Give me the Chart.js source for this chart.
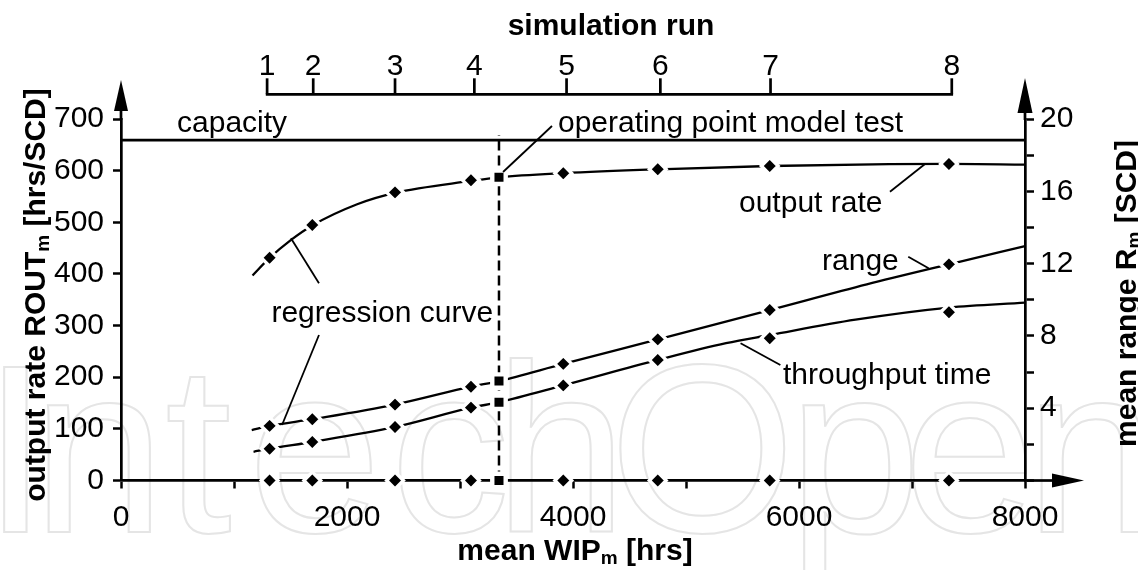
<!DOCTYPE html>
<html><head><meta charset="utf-8">
<script src="https://cdn.jsdelivr.net/npm/chart.js@4/dist/chart.umd.min.js"></script>
<style>html,body{margin:0;padding:0;background:#fff}#wrap{width:1138px;height:570px;position:relative}</style>
</head><body><div id="wrap"><canvas id="c" width="1138" height="570"></canvas></div>
<script>
// ---------- data ----------
const runs = ['1','2','3','4','5','6','7','8'];
const runWIP = [1315, 1693, 2425, 3097, 3914, 4750, 5741, 7327];
const runTickWIP = [1293, 1701, 2425, 3127, 3943, 4773, 5748, 7352];
const outputRate = [431.4, 494.7, 558, 581.3, 595, 602.8, 609, 612.9];
const rangeSCD = [3.02, 3.39, 4.2, 5.19, 6.45, 7.81, 9.43, 11.96];
const throughputSCD = [1.76, 2.13, 2.96, 4.03, 5.26, 6.67, 7.87, 9.31];
const opWIP = 3345;
const opOutput = 587.1;
const opRange = 5.5;
const opThroughput = 4.33;
const capacity = 659;
const opLineTop = 669;
const outCurveX = [1164, 1315, 1505, 1693, 2090, 2425, 3097, 3345, 3914, 4750, 5741, 6800, 7327, 8000];
const outCurveY = [397, 431, 466, 494, 535, 557, 580, 587, 595, 602.5, 609, 612.5, 613, 611.5];
const rangeCurveX = [1157, 1315, 1693, 2425, 3097, 3345, 3914, 4750, 5741, 6600, 7327, 8000];
const rangeCurveY = [2.79, 3.02, 3.39, 4.2, 5.19, 5.5, 6.45, 7.81, 9.43, 10.85, 11.96, 12.97];
const tptCurveX = [1173, 1315, 1693, 2425, 3097, 3345, 3914, 4750, 5354, 5741, 6500, 7327, 8000];
const tptCurveY = [1.59, 1.76, 2.13, 2.96, 4.03, 4.33, 5.26, 6.67, 7.6, 8.05, 8.9, 9.57, 9.84];

const FAM = "'Liberation Sans', Arial, Helvetica, sans-serif";

// annotation texts (x in WIP, y in output-rate units)
const labels = [
  {t:'capacity', x:496, y:675.4},
  {t:'operating point model test', x:3867, y:674.8},
  {t:'output rate', x:5469, y:520.5},
  {t:'range', x:6204, y:407.6},
  {t:'throughput time', x:5858, y:187.8},
  {t:'regression curve', x:1331, y:307.5}
];
const leaders = [
  [3381, 597.4, 3814, 686.5],
  [6805, 559.2, 7115, 612.9],
  [6967, 433.4, 7147, 410.9],
  [5483, 265.7, 5835, 223.6],
  [1504, 469, 1752, 381.9],
  [1752, 281.7, 1425, 107.5]
];

// faint background watermark
const wmText = 'IntechOpen';
const wmInkLeft = [4, 47, 168, 258, 400, 510, 620, 803, 913, 1040];

const pts = (xs, ys) => xs.map((x, i) => ({x: x, y: ys[i]}));

function rich(ctx, parts, F, x, y, rot) {
  ctx.save();
  ctx.translate(x, y);
  if (rot) ctx.rotate(rot);
  const fonts = parts.map(p => p[1] ? `bold ${Math.round(F * 0.63)}px ${FAM}` : `bold ${F}px ${FAM}`);
  const widths = parts.map((p, i) => { ctx.font = fonts[i]; return ctx.measureText(p[0]).width; });
  let cx = -widths.reduce((a, b) => a + b, 0) / 2;
  ctx.textAlign = 'left'; ctx.textBaseline = 'alphabetic'; ctx.fillStyle = '#000';
  parts.forEach((p, i) => { ctx.font = fonts[i]; ctx.fillText(p[0], cx, p[1] ? 4 : 0); cx += widths[i]; });
  ctx.restore();
}

const watermark = {
  id: 'watermark',
  beforeDraw(chart) {
    const ctx = chart.ctx;
    ctx.save();
    ctx.font = `240px ${FAM}`; ctx.textAlign = 'left'; ctx.textBaseline = 'alphabetic';
    ctx.strokeStyle = '#e5e5e5'; ctx.lineWidth = 2;
    wmText.split('').forEach((ch, i) => {
      const m = ctx.measureText(ch);
      ctx.strokeText(ch, wmInkLeft[i] + (m.actualBoundingBoxLeft || 0), 532);
    });
    ctx.restore();
  }
};

const deco = {
  id: 'deco',
  afterDraw(chart) {
    const ctx = chart.ctx, ca = chart.chartArea;
    const xs = chart.scales.x, ys = chart.scales.y;
    const X = v => xs.getPixelForValue(v), Y = v => ys.getPixelForValue(v);
    ctx.save();
    ctx.strokeStyle = '#000'; ctx.fillStyle = '#000'; ctx.lineCap = 'butt';
    // axis arrows
    ctx.lineWidth = 2.7;
    ctx.beginPath(); ctx.moveTo(ca.left, ca.top + 1); ctx.lineTo(ca.left, ca.top - 10); ctx.stroke();
    ctx.beginPath(); ctx.moveTo(ca.left, ca.top - 39); ctx.lineTo(ca.left - 7, ca.top - 8); ctx.lineTo(ca.left + 7, ca.top - 8); ctx.closePath(); ctx.fill();
    ctx.beginPath(); ctx.moveTo(ca.right, ca.top + 1); ctx.lineTo(ca.right, ca.top - 8); ctx.stroke();
    ctx.beginPath(); ctx.moveTo(ca.right, ca.top - 41); ctx.lineTo(ca.right - 7.5, ca.top - 6); ctx.lineTo(ca.right + 7.5, ca.top - 6); ctx.closePath(); ctx.fill();
    ctx.beginPath(); ctx.moveTo(ca.right - 1, ca.bottom); ctx.lineTo(ca.right + 29, ca.bottom); ctx.stroke();
    ctx.beginPath(); ctx.moveTo(ca.right + 59, ca.bottom); ctx.lineTo(ca.right + 27, ca.bottom - 7); ctx.lineTo(ca.right + 27, ca.bottom + 7); ctx.closePath(); ctx.fill();
    // top axis: simulation run
    const ty = ca.top - 24.7;
    ctx.beginPath(); ctx.moveTo(X(runTickWIP[0]) - 1.3, ty); ctx.lineTo(X(runTickWIP[runTickWIP.length - 1]) + 1.3, ty); ctx.stroke();
    ctx.font = `30px ${FAM}`; ctx.textAlign = 'center'; ctx.textBaseline = 'alphabetic';
    runTickWIP.forEach((w, i) => {
      ctx.beginPath(); ctx.moveTo(X(w), ty); ctx.lineTo(X(w), ty - 16); ctx.stroke();
      ctx.fillText(runs[i], X(w), ty - 19.5);
    });
    // axis titles
    rich(ctx, [['simulation run']], 30, X(4336), 35, 0);
    rich(ctx, [['mean WIP'], ['m', 1], [' [hrs]']], 30, (ca.left + ca.right) / 2 + 2, 560, 0);
    rich(ctx, [['output rate ROUT'], ['m', 1], [' [hrs/SCD]']], 30, 45, 295, -Math.PI / 2);
    rich(ctx, [['mean range R'], ['m', 1], [' [SCD]']], 30, 1136, 293.5, -Math.PI / 2);
    // leader lines
    ctx.lineWidth = 1.8;
    leaders.forEach(l => { ctx.beginPath(); ctx.moveTo(X(l[0]), Y(l[1])); ctx.lineTo(X(l[2]), Y(l[3])); ctx.stroke(); });
    // annotation texts
    ctx.font = `30px ${FAM}`; ctx.textAlign = 'left'; ctx.textBaseline = 'alphabetic';
    labels.forEach(a => ctx.fillText(a.t, X(a.x), Y(a.y)));
    ctx.restore();
  }
};

const diamond = {showLine: false, pointStyle: 'rectRot', pointRadius: 8.4, pointBorderWidth: 3.4,
  pointBackgroundColor: '#000', pointBorderColor: '#fff', clip: false};
const square = {showLine: false, pointStyle: 'rect', pointRadius: 9.5, pointBorderWidth: 4.4,
  pointBackgroundColor: '#000', pointBorderColor: '#fff', clip: false};
const curve = {borderColor: '#000', borderWidth: 2.3, pointRadius: 0, cubicInterpolationMode: 'monotone', clip: false};

new Chart(document.getElementById('c'), {
  type: 'line',
  data: {
    datasets: [
      Object.assign({label: 'operating point', yAxisID: 'y', data: [{x: opWIP, y: opOutput}, {x: opWIP, y: 0}]}, square),
      Object.assign({label: 'operating point SCD', yAxisID: 'y2', data: [{x: opWIP, y: opRange}, {x: opWIP, y: opThroughput}]}, square),
      Object.assign({label: 'output rate', yAxisID: 'y', data: pts(runWIP, outputRate)}, diamond),
      Object.assign({label: 'range', yAxisID: 'y2', data: pts(runWIP, rangeSCD)}, diamond),
      Object.assign({label: 'throughput time', yAxisID: 'y2', data: pts(runWIP, throughputSCD)}, diamond),
      Object.assign({label: 'runs', yAxisID: 'y', data: runWIP.map(x => ({x: x, y: 0}))}, diamond),
      Object.assign({label: 'output rate regression', yAxisID: 'y', data: pts(outCurveX, outCurveY)}, curve),
      Object.assign({label: 'range regression', yAxisID: 'y2', data: pts(rangeCurveX, rangeCurveY)}, curve),
      Object.assign({label: 'throughput regression', yAxisID: 'y2', data: pts(tptCurveX, tptCurveY)}, curve),
      {label: 'capacity', yAxisID: 'y', data: [{x: 0, y: capacity}, {x: 8000, y: capacity}],
        borderColor: '#000', borderWidth: 2.7, pointRadius: 0, clip: false},
      {label: 'operating line', yAxisID: 'y', data: [{x: opWIP, y: 0}, {x: opWIP, y: opLineTop}],
        borderColor: '#000', borderWidth: 2.5, borderDash: [10, 5], pointRadius: 0, clip: false}
    ]
  },
  options: {
    responsive: false, animation: false, devicePixelRatio: 1, events: [],
    layout: {padding: {top: 119, left: 0, right: 0, bottom: 0}},
    plugins: {legend: {display: false}, tooltip: {enabled: false}, title: {display: false}},
    scales: {
      x: {type: 'linear', position: 'bottom', min: 0, max: 8000,
        afterFit: s => { s.height = 89.5; },
        ticks: {stepSize: 1000, autoSkip: false, maxRotation: 0, padding: 11, color: '#000',
          font: {size: 30, family: FAM}, callback: v => (v % 2000 === 0 ? String(v) : '')},
        grid: {drawOnChartArea: false, tickLength: 8, tickWidth: 2.5, tickColor: '#000'},
        border: {color: '#000', width: 2.7}},
      y: {type: 'linear', position: 'left', min: 0, max: 700,
        afterFit: s => { s.width = 121; },
        ticks: {stepSize: 100, padding: 9, color: '#000', font: {size: 30, family: FAM}, callback: v => String(v)},
        grid: {drawOnChartArea: false, tickLength: 8, tickWidth: 2.5, tickColor: '#000'},
        border: {color: '#000', width: 2.7}},
      y2: {type: 'linear', position: 'right', min: 0, max: 20,
        afterFit: s => { s.width = 113; },
        ticks: {stepSize: 2, autoSkip: false, padding: 6, color: '#000', font: {size: 30, family: FAM},
          callback: v => (v % 4 === 0 && v > 0 ? String(v) : '')},
        grid: {drawOnChartArea: false, tickLength: 9, tickWidth: 2.5, tickColor: '#000'},
        border: {color: '#000', width: 2.7}}
    }
  },
  plugins: [watermark, deco]
});
</script></body></html>
